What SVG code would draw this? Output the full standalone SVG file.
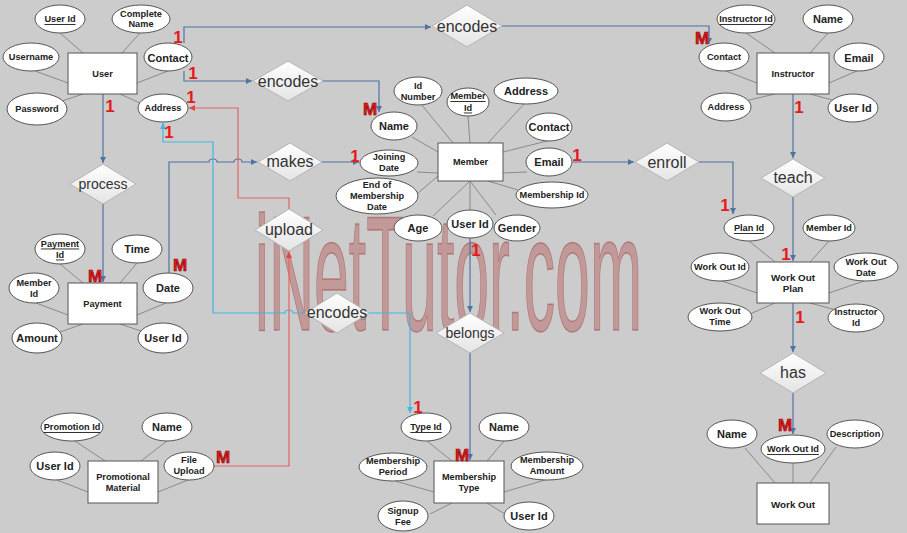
<svg xmlns="http://www.w3.org/2000/svg" width="907" height="533" viewBox="0 0 907 533">
<style>
.ent rect{fill:#fff;stroke:#555;stroke-width:1}
.att ellipse{fill:#fff;stroke:#555;stroke-width:1}
.rel polygon{fill:url(#dg);stroke:#b4b4b4;stroke-width:1}
text{font-family:"Liberation Sans",Arial,sans-serif;text-anchor:middle;dominant-baseline:central;fill:#222}
.s{font-size:9.2px;font-weight:700}
.l{font-size:11px;font-weight:700}
.e{font-size:9.8px;font-weight:700}
.r{font-size:16px;fill:#333}
.r2{font-size:14px;fill:#333}
.u{text-decoration:underline}
.c{font-size:17px;font-weight:700;fill:#e41b1b;dominant-baseline:auto}
.cm{font-size:17px;font-weight:700;fill:#e41b1b;stroke:#8a0000;stroke-width:0.6;dominant-baseline:auto}
.ln{stroke:#8a8a8a;stroke-width:1;fill:none}
.cb{stroke:#4f73a3;stroke-width:1.2;fill:none}
.cc{stroke:#45b4e0;stroke-width:1.2;fill:none}
.cr{stroke:#e06666;stroke-width:1.2;fill:none}
.wm{font-size:163px;fill:#b55a5a;fill-opacity:0.45;stroke:#a04848;stroke-opacity:0.55;stroke-width:1.5;dominant-baseline:auto;text-anchor:start}
</style>
<defs>
<linearGradient id="dg" x1="0" y1="0" x2="0" y2="1">
<stop offset="0" stop-color="#ffffff"/>
<stop offset="1" stop-color="#e4e4e4"/>
</linearGradient>
<marker id="ab" markerUnits="userSpaceOnUse" markerWidth="6" markerHeight="6" refX="6" refY="3" orient="auto"><path d="M0,0 L6,3 L0,6 z" fill="#4f73a3"/></marker>
<marker id="ac" markerUnits="userSpaceOnUse" markerWidth="6" markerHeight="6" refX="6" refY="3" orient="auto"><path d="M0,0 L6,3 L0,6 z" fill="#45b4e0"/></marker>
<marker id="ar" markerUnits="userSpaceOnUse" markerWidth="6" markerHeight="6" refX="6" refY="3" orient="auto"><path d="M0,0 L6,3 L0,6 z" fill="#e04444"/></marker>
</defs>
<rect x="0" y="0" width="907" height="533" fill="#cccccc"/>
<text class="wm" x="255" y="330" textLength="387" lengthAdjust="spacingAndGlyphs">iNetTutor.com</text>

<g id="connectors">
<!-- attribute links -->
<path class="ln" d="M83,53 L60,33 M122,53 L140,33 M68,83 L35,71 M137,83 L168,71 M83,94 L62,101 M120,94 L140,103"/>
<path class="ln" d="M453,143 L421,104 M470,143 L468,116 M488,143 L524,104 M503,152 L547,141 M438,152 L412,137 M438,173 L417,172 M503,173 L527,172 M438,176 L417,194 M470,181 L433,216 M470,181 L470,210 M470,181 L496,215 M488,181 L518,190"/>
<path class="ln" d="M775,53 L746,33 M810,53 L828,33 M757,83 L726,71 M829,83 L857,71 M775,94 L745,101 M810,94 L836,101"/>
<path class="ln" d="M83,283 L60,264 M120,283 L137,263 M68,315 L36,303 M137,315 L166,303 M83,324 L57,333 M120,324 L144,332"/>
<path class="ln" d="M775,262 L749,241 M810,262 L829,241 M757,293 L722,281 M829,293 L864,281 M775,303 L750,314 M810,303 L836,310"/>
<path class="ln" d="M775,483 L745,448 M793,483 L793,463 M810,483 L836,447"/>
<path class="ln" d="M105,461 L75,441 M141,461 L167,441 M88,492 L57,480 M158,492 L188,480"/>
<path class="ln" d="M452,461 L427,441 M487,461 L504,441 M434,492 L395,481 M504,492 L545,480 M452,503 L430,514 M487,503 L505,514"/>
<!-- relationship connectors -->
<path class="cb" d="M184,43 V27 H431" marker-end="url(#ab)"/>
<path class="cb" d="M502,26 H709 V44" marker-end="url(#ab)"/>
<path class="cb" d="M184,71 V81 H252" marker-end="url(#ab)"/>
<path class="cb" d="M323,81 H379 V112" marker-end="url(#ab)"/>
<path class="cb" d="M103,94 V163" marker-end="url(#ab)"/>
<path class="cb" d="M103,204 V282" marker-end="url(#ab)"/>
<path class="cb" d="M169,273 V162 H209 a4,3 0 0 1 8,0 H234 a4,3 0 0 1 8,0 H257" marker-end="url(#ab)"/>
<path class="cb" d="M322,162 H359" marker-end="url(#ab)"/>
<path class="cb" d="M573,162 H634" marker-end="url(#ab)"/>
<path class="cb" d="M699,162 H733 V214" marker-end="url(#ab)"/>
<path class="cb" d="M793,94 V158" marker-end="url(#ab)"/>
<path class="cb" d="M793,197 V261" marker-end="url(#ab)"/>
<path class="cb" d="M793,303 V352" marker-end="url(#ab)"/>
<path class="cb" d="M793,393 V434" marker-end="url(#ab)"/>
<path class="cb" d="M470,238 V312" marker-end="url(#ab)"/>
<path class="cb" d="M470,353 V460" marker-end="url(#ab)"/>
<path class="cc" d="M305,313 H293 a4,3 0 0 0 -8,0 H213 V142 H163 V123" marker-end="url(#ac)"/>
<path class="cc" d="M369,313 H410 V413" marker-end="url(#ac)"/>
<path class="cr" d="M214,466 H289 V252" marker-end="url(#ar)"/>
<path class="cr" d="M289,209 V198 H238 V108 H189" marker-end="url(#ar)"/>
</g>

<!-- relationships -->
<g id="rel-encodes1" class="rel"><polygon points="432,26 467,5 502,26 467,47"/><text class="r" x="467" y="26">encodes</text></g>
<g id="rel-encodes2" class="rel"><polygon points="253,81 288,61 323,81 288,101"/><text class="r" x="288" y="81">encodes</text></g>
<g id="rel-makes" class="rel"><polygon points="258,162 290,143 322,162 290,181"/><text class="r" x="290" y="161">makes</text></g>
<g id="rel-upload" class="rel"><polygon points="255,230 289,209 323,230 289,251"/><text class="r" x="289" y="229">upload</text></g>
<g id="rel-encodes3" class="rel"><polygon points="305,313 337,293 369,313 337,333"/><text class="r" x="337" y="312">encodes</text></g>
<g id="rel-belongs" class="rel"><polygon points="436,333 470,313 504,333 470,353"/><text class="r2" x="470" y="333">belongs</text></g>
<g id="rel-process" class="rel"><polygon points="70,184 103,164 136,184 103,204"/><text class="r2" x="103" y="184">process</text></g>
<g id="rel-enroll" class="rel"><polygon points="635,162 667,143 699,162 667,181"/><text class="r" x="667" y="162">enroll</text></g>
<g id="rel-teach" class="rel"><polygon points="761,178 793,159 825,178 793,197"/><text class="r" x="793" y="177">teach</text></g>
<g id="rel-has" class="rel"><polygon points="760,373 793,353 826,373 793,393"/><text class="r" x="793" y="372">has</text></g>

<!-- User -->
<g id="ent-user" class="ent"><rect x="68" y="53" width="69" height="41"/><text class="s" x="102.5" y="74">User</text></g>
<g id="att-user-id" class="att"><ellipse cx="60" cy="19" rx="25" ry="14"/><text class="s u" x="60" y="19">User Id</text></g>
<g id="att-user-name" class="att"><ellipse cx="141" cy="19" rx="29" ry="14"/><text class="s" x="141"><tspan x="141" y="13.5">Complete</tspan><tspan x="141" y="24">Name</tspan></text></g>
<g id="att-user-username" class="att"><ellipse cx="31" cy="57" rx="28" ry="14"/><text class="s" x="31" y="57">Username</text></g>
<g id="att-user-contact" class="att"><ellipse cx="168" cy="57" rx="24" ry="14"/><text class="l" x="168" y="58">Contact</text></g>
<g id="att-user-password" class="att"><ellipse cx="37" cy="109" rx="30" ry="16"/><text class="s" x="37" y="109">Password</text></g>
<g id="att-user-address" class="att"><ellipse cx="163" cy="108" rx="25" ry="14"/><text class="s" x="163" y="108">Address</text></g>

<!-- Member -->
<g id="ent-member" class="ent"><rect x="438" y="143" width="65" height="38"/><text class="s" x="470.5" y="162">Member</text></g>
<g id="att-member-name" class="att"><ellipse cx="394" cy="126" rx="23" ry="14"/><text class="l" x="394" y="126">Name</text></g>
<g id="att-member-idnumber" class="att"><ellipse cx="418" cy="91" rx="24" ry="14"/><text class="s"><tspan x="418" y="86">Id</tspan><tspan x="418" y="96.5">Number</tspan></text></g>
<g id="att-member-memberid" class="att"><ellipse cx="468" cy="102" rx="21" ry="14"/><text class="s u"><tspan x="468" y="96">Member</tspan><tspan x="468" y="107.5">Id</tspan></text></g>
<g id="att-member-address" class="att"><ellipse cx="526" cy="91" rx="32" ry="13"/><text class="l" x="526" y="91">Address</text></g>
<g id="att-member-contact" class="att"><ellipse cx="549" cy="127" rx="23" ry="14"/><text class="l" x="549" y="127">Contact</text></g>
<g id="att-member-email" class="att"><ellipse cx="549" cy="162" rx="23" ry="14"/><text class="l" x="549" y="162">Email</text></g>
<g id="att-member-joining" class="att"><ellipse cx="389" cy="163" rx="29" ry="13"/><text class="s"><tspan x="389" y="157">Joining</tspan><tspan x="389" y="167.5">Date</tspan></text></g>
<g id="att-member-end" class="att"><ellipse cx="377" cy="196" rx="41" ry="18"/><text class="s"><tspan x="377" y="184.5">End of</tspan><tspan x="377" y="195.5">Membership</tspan><tspan x="377" y="206.5">Date</tspan></text></g>
<g id="att-member-membershipid" class="att"><ellipse cx="552" cy="195" rx="36" ry="13"/><text class="s" x="552" y="195">Membership Id</text></g>
<g id="att-member-age" class="att"><ellipse cx="418" cy="228" rx="24" ry="13"/><text class="l" x="418" y="228">Age</text></g>
<g id="att-member-userid" class="att"><ellipse cx="470" cy="224" rx="23" ry="14"/><text class="l" x="470" y="224">User Id</text></g>
<g id="att-member-gender" class="att"><ellipse cx="517" cy="228" rx="23" ry="13"/><text class="l" x="517" y="228">Gender</text></g>

<!-- Instructor -->
<g id="ent-instructor" class="ent"><rect x="757" y="53" width="72" height="41"/><text class="s" x="793" y="74">Instructor</text></g>
<g id="att-instr-id" class="att"><ellipse cx="746" cy="19" rx="29" ry="14"/><text class="s u" x="746" y="19">Instructor Id</text></g>
<g id="att-instr-name" class="att"><ellipse cx="828" cy="19" rx="25" ry="14"/><text class="l" x="828" y="19">Name</text></g>
<g id="att-instr-contact" class="att"><ellipse cx="724" cy="57" rx="25" ry="14"/><text class="s" x="724" y="57">Contact</text></g>
<g id="att-instr-email" class="att"><ellipse cx="859" cy="57" rx="25" ry="14"/><text class="l" x="859" y="58">Email</text></g>
<g id="att-instr-address" class="att"><ellipse cx="726" cy="107" rx="25" ry="14"/><text class="s" x="726" y="107">Address</text></g>
<g id="att-instr-userid" class="att"><ellipse cx="853" cy="108" rx="25" ry="14"/><text class="l" x="853" y="108">User Id</text></g>

<!-- Payment -->
<g id="ent-payment" class="ent"><rect x="68" y="283" width="69" height="41"/><text class="s" x="102.5" y="304">Payment</text></g>
<g id="att-pay-id" class="att"><ellipse cx="60" cy="249" rx="25" ry="15"/><text class="s u"><tspan x="60" y="243.5">Payment</tspan><tspan x="60" y="254.5">Id</tspan></text></g>
<g id="att-pay-time" class="att"><ellipse cx="137" cy="249" rx="25" ry="14"/><text class="l" x="137" y="249">Time</text></g>
<g id="att-pay-memberid" class="att"><ellipse cx="34" cy="288" rx="25" ry="15"/><text class="s"><tspan x="34" y="282.5">Member</tspan><tspan x="34" y="293.5">Id</tspan></text></g>
<g id="att-pay-date" class="att"><ellipse cx="168" cy="288" rx="25" ry="15"/><text class="l" x="168" y="288">Date</text></g>
<g id="att-pay-amount" class="att"><ellipse cx="37" cy="338" rx="25" ry="15"/><text class="l" x="37" y="338">Amount</text></g>
<g id="att-pay-userid" class="att"><ellipse cx="163" cy="338" rx="25" ry="15"/><text class="l" x="163" y="338">User Id</text></g>

<!-- Work Out Plan -->
<g id="ent-workoutplan" class="ent"><rect x="757" y="262" width="72" height="41"/><text class="e"><tspan x="793" y="277">Work Out</tspan><tspan x="793" y="288">Plan</tspan></text></g>
<g id="att-wop-planid" class="att"><ellipse cx="749" cy="228" rx="25" ry="13"/><text class="s u" x="749" y="228">Plan Id</text></g>
<g id="att-wop-memberid" class="att"><ellipse cx="829" cy="228" rx="26" ry="13"/><text class="s" x="829" y="228">Member Id</text></g>
<g id="att-wop-workoutid" class="att"><ellipse cx="720" cy="267" rx="29" ry="14"/><text class="s" x="720" y="267">Work Out Id</text></g>
<g id="att-wop-date" class="att"><ellipse cx="866" cy="267" rx="32" ry="14"/><text class="s"><tspan x="866" y="261.5">Work Out</tspan><tspan x="866" y="272.5">Date</tspan></text></g>
<g id="att-wop-time" class="att"><ellipse cx="720" cy="317" rx="32" ry="14"/><text class="s"><tspan x="720" y="311">Work Out</tspan><tspan x="720" y="322">Time</tspan></text></g>
<g id="att-wop-instrid" class="att"><ellipse cx="856" cy="318" rx="28" ry="14"/><text class="s"><tspan x="856" y="312">Instructor</tspan><tspan x="856" y="323">Id</tspan></text></g>

<!-- Work Out -->
<g id="ent-workout" class="ent"><rect x="757" y="483" width="72" height="41"/><text class="e" x="793" y="504">Work Out</text></g>
<g id="att-wo-name" class="att"><ellipse cx="732" cy="434" rx="25" ry="14"/><text class="l" x="732" y="434">Name</text></g>
<g id="att-wo-id" class="att"><ellipse cx="793" cy="449" rx="32" ry="14"/><text class="s u" x="793" y="449">Work Out Id</text></g>
<g id="att-wo-desc" class="att"><ellipse cx="855" cy="434" rx="28" ry="14"/><text class="s" x="855" y="434">Description</text></g>

<!-- Promotional Material -->
<g id="ent-promo" class="ent"><rect x="88" y="461" width="70" height="42"/><text class="s"><tspan x="123" y="476.5">Promotional</tspan><tspan x="123" y="487.5">Material</tspan></text></g>
<g id="att-promo-id" class="att"><ellipse cx="72" cy="427" rx="31" ry="14"/><text class="s u" x="72" y="427">Promotion Id</text></g>
<g id="att-promo-name" class="att"><ellipse cx="167" cy="427" rx="25" ry="14"/><text class="l" x="167" y="427">Name</text></g>
<g id="att-promo-userid" class="att"><ellipse cx="55" cy="466" rx="25" ry="14"/><text class="l" x="55" y="466">User Id</text></g>
<g id="att-promo-file" class="att"><ellipse cx="189" cy="466" rx="25" ry="14"/><text class="s"><tspan x="189" y="460">File</tspan><tspan x="189" y="471">Upload</tspan></text></g>

<!-- Membership Type -->
<g id="ent-mtype" class="ent"><rect x="434" y="461" width="70" height="42"/><text class="s"><tspan x="469" y="476.5">Membership</tspan><tspan x="469" y="487.5">Type</tspan></text></g>
<g id="att-mt-typeid" class="att"><ellipse cx="426" cy="427" rx="25" ry="14"/><text class="s u" x="426" y="427">Type Id</text></g>
<g id="att-mt-name" class="att"><ellipse cx="504" cy="427" rx="25" ry="14"/><text class="l" x="504" y="427">Name</text></g>
<g id="att-mt-period" class="att"><ellipse cx="393" cy="467" rx="34" ry="14"/><text class="s"><tspan x="393" y="460.5">Membership</tspan><tspan x="393" y="471.5">Period</tspan></text></g>
<g id="att-mt-amount" class="att"><ellipse cx="547" cy="466" rx="36" ry="14"/><text class="s"><tspan x="547" y="460">Membership</tspan><tspan x="547" y="471">Amount</tspan></text></g>
<g id="att-mt-fee" class="att"><ellipse cx="403" cy="516" rx="25" ry="15"/><text class="s"><tspan x="403" y="510.5">Signup</tspan><tspan x="403" y="521.5">Fee</tspan></text></g>
<g id="att-mt-userid" class="att"><ellipse cx="529" cy="516" rx="25" ry="14"/><text class="l" x="529" y="516">User Id</text></g>

<!-- cardinalities -->
<g id="cardinalities">
<text class="c" x="178" y="43">1</text>
<text class="c" x="193" y="79">1</text>
<text class="c" x="191" y="103">1</text>
<text class="c" x="169" y="138">1</text>
<text class="c" x="110" y="112">1</text>
<text class="cm" x="370" y="115">M</text>
<text class="cm" x="702" y="44">M</text>
<text class="c" x="799" y="113">1</text>
<text class="c" x="355" y="162">1</text>
<text class="c" x="577" y="161">1</text>
<text class="c" x="725" y="211">1</text>
<text class="c" x="786" y="260">1</text>
<text class="c" x="800" y="323">1</text>
<text class="cm" x="785" y="431">M</text>
<text class="c" x="476" y="256">1</text>
<text class="cm" x="95" y="282">M</text>
<text class="cm" x="180" y="271">M</text>
<text class="c" x="418" y="413">1</text>
<text class="cm" x="462" y="461">M</text>
<text class="cm" x="223" y="463">M</text>
</g>
</svg>
